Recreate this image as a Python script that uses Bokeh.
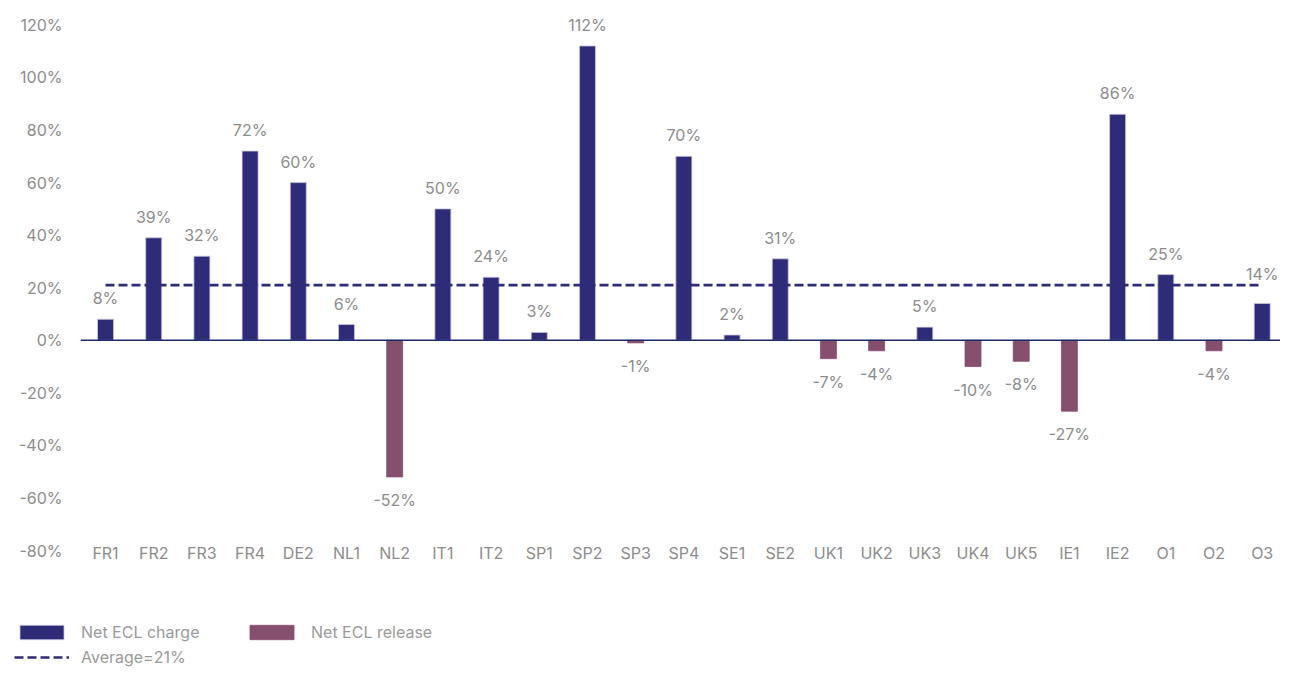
from bokeh.plotting import figure
from bokeh.layouts import column
from bokeh.models import (Range1d, FixedTicker, PrintfTickFormatter, Span, Legend,
                          LegendItem, ColumnDataSource)
from bokeh.embed import file_html
from bokeh.resources import INLINE
from bokeh.core.properties import value

# ---- data ----
categories = ["FR1", "FR2", "FR3", "FR4", "DE2", "NL1", "NL2", "IT1", "IT2", "SP1",
              "SP2", "SP3", "SP4", "SE1", "SE2", "UK1", "UK2", "UK3", "UK4", "UK5",
              "IE1", "IE2", "O1", "O2", "O3"]
values = [8, 39, 32, 72, 60, 6, -52, 50, 24, 3,
          112, -1, 70, 2, 31, -7, -4, 5, -10, -8,
          -27, 86, 25, -4, 14]
average = 21
y_ticks = [-80, -60, -40, -20, 0, 20, 40, 60, 80, 100, 120]

NAVY = "#2e2c78"
PLUM = "#874f6e"
GREY = "#8c8c8c"
FONT = "Inter"
FS = "16px"

xs = list(range(len(categories)))
pos = {"x": [], "top": [], "label": [], "off": []}
neg = {"x": [], "top": [], "label": [], "off": []}
for i, v in zip(xs, values):
    if v > 0:
        d = pos
        # lift a label clear of the average line when it would sit on it
        off = -29 if abs(v + 8 - average) < 4 else -21
    else:
        d = neg
        off = 23
    d["x"].append(i)
    d["top"].append(v)
    d["label"].append(f"{v}%")
    d["off"].append(off)
src_pos = ColumnDataSource(pos)
src_neg = ColumnDataSource(neg)

W = 1280
p = figure(width=W, height=600, output_backend="svg", toolbar_location=None,
           x_range=Range1d(-0.519, 24.38), y_range=Range1d(-80, 129.3),
           min_border_left=80, min_border_right=0, min_border_top=0, min_border_bottom=50)
p.frame_align = False
p.outline_line_color = None
p.xgrid.visible = False
p.ygrid.visible = False
p.background_fill_color = "white"
p.border_fill_color = "white"

bar_style_pos = dict(fill_color=NAVY, line_color="#c9c8dc", line_width=0.8)
bar_style_neg = dict(fill_color=PLUM, line_color=PLUM, line_width=0.8)
avg_style = dict(line_color=NAVY, line_width=2.6, line_dash="9 4")

p.vbar(x="x", top="top", bottom=0, width=0.332, source=src_pos, **bar_style_pos)
p.vbar(x="x", top="top", bottom=0, width=0.332, source=src_neg, **bar_style_neg)

p.add_layout(Span(location=0, dimension="width", line_color="#1d2a6a", line_width=1.6))

p.line(x=[xs[0], xs[-1]], y=[average, average], **avg_style)

p.text(x="x", y="top", text="label", source=src_pos, text_align="center",
       text_baseline="middle", y_offset="off", text_font=value(FONT),
       text_font_size=FS, text_color=GREY)
p.text(x="x", y="top", text="label", source=src_neg, text_align="center",
       text_baseline="middle", y_offset="off", text_font=value(FONT),
       text_font_size=FS, text_color=GREY)

# axes
for ax in (p.xaxis[0], p.yaxis[0]):
    ax.axis_line_color = None
    ax.major_tick_line_color = None
    ax.minor_tick_line_color = None
    ax.major_tick_out = 0
    ax.major_tick_in = 0
    ax.major_label_text_font = FONT
    ax.major_label_text_font_size = FS
    ax.major_label_text_color = GREY

p.yaxis.ticker = FixedTicker(ticks=y_ticks)
p.yaxis.formatter = PrintfTickFormatter(format="%d%%")
p.yaxis.major_label_standoff = 18

p.xaxis.ticker = FixedTicker(ticks=xs)
p.xaxis.major_label_overrides = {i: c for i, c in zip(xs, categories)}
p.xaxis.major_label_standoff = -8

# ---- legend strip ----
lf = figure(width=W, height=67, output_backend="svg", toolbar_location=None,
            x_range=Range1d(0, 1), y_range=Range1d(0, 1),
            x_axis_type=None, y_axis_type=None,
            min_border_left=0, min_border_right=0, min_border_top=0, min_border_bottom=0)
lf.frame_align = False
lf.outline_line_color = None
lf.xgrid.visible = False
lf.ygrid.visible = False
lf.border_fill_color = "white"
# proxy renderers kept outside the visible range; they only give the legend its swatches
lr_pos = lf.vbar(x=[10], top=[1], bottom=[0], width=0.3, **bar_style_pos)
lr_neg = lf.vbar(x=[10], top=[1], bottom=[0], width=0.3, **bar_style_neg)
lr_avg = lf.line(x=[10, 11], y=[0.5, 0.5], **avg_style)

common = dict(orientation="horizontal", glyph_width=55, glyph_height=18,
              label_height=18, spacing=0, padding=0, margin=0, label_standoff=12,
              border_line_color=None, background_fill_alpha=0,
              label_text_font=FONT, label_text_font_size=FS,
              label_text_color="#9a9a9a", label_text_baseline="middle")
leg1 = Legend(items=[LegendItem(label="Net ECL charge", renderers=[lr_pos]),
                     LegendItem(label="Net ECL release", renderers=[lr_neg])],
              location=(14, 25), label_width=163, **common)
leg2 = Legend(items=[LegendItem(label=f"Average={average}%", renderers=[lr_avg])],
              location=(14, 0), **common)
lf.add_layout(leg1)
lf.add_layout(leg2)

layout = column(p, lf, spacing=0)
open("out.html", "w").write(file_html(layout, INLINE))
